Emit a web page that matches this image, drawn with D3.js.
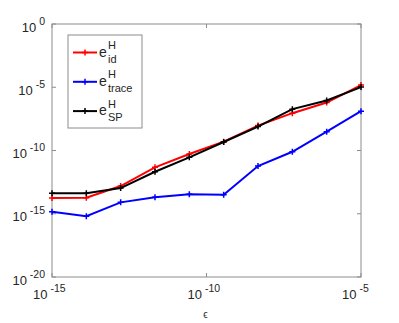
<!DOCTYPE html>
<html>
<head>
<meta charset="utf-8">
<script src="https://cdn.jsdelivr.net/npm/d3@7"></script>
<style>
  body { margin: 0; background: #fff; }
  text { font-family: "Liberation Sans", Arial, sans-serif; fill: #262626; }
</style>
</head>
<body>
<div id="chart"></div>
<script>
// svg container
var svgWidth = 399;
var svgHeight = 323;

var margin = { top: 24, right: 38, bottom: 46, left: 52 };
var width = svgWidth - margin.left - margin.right;
var height = svgHeight - margin.top - margin.bottom;

// data (log10 of values)
var epsExp = [-15, -13.889, -12.778, -11.667, -10.556, -9.444, -8.333, -7.222, -6.111, -5];
var idExp = [-13.76, -13.74, -12.81, -11.33, -10.28, -9.30, -8.03, -7.05, -6.21, -4.83];
var traceExp = [-14.85, -15.19, -14.10, -13.69, -13.45, -13.50, -11.23, -10.10, -8.51, -6.89];
var spExp = [-13.37, -13.37, -12.97, -11.68, -10.54, -9.33, -8.11, -6.73, -6.05, -4.99];

var xTicks = [-15, -10, -5];
var yTicks = [0, -5, -10, -15, -20];

var series = [
  { name: "id", values: idExp, color: "#ff0000" },
  { name: "trace", values: traceExp, color: "#0000ff" },
  { name: "SP", values: spExp, color: "#000000" }
];

var svg = d3.select("#chart")
  .append("svg")
  .attr("width", svgWidth)
  .attr("height", svgHeight);

var chartGroup = svg.append("g")
  .attr("transform", `translate(${margin.left}, ${margin.top})`);

// scales
var xScale = d3.scaleLog()
  .domain([1e-15, 1e-5])
  .range([0, width]);

var yScale = d3.scaleLog()
  .domain([1e-20, 1])
  .range([height, 0]);

var axisColor = "#8c8c8c";

// box
chartGroup.append("rect")
  .attr("x", 0).attr("y", 0)
  .attr("width", width).attr("height", height)
  .attr("fill", "none")
  .attr("stroke", axisColor)
  .attr("stroke-width", 1);

// ticks (inside, both sides)
var tickLen = 4;
yTicks.forEach(function(e) {
  var y = yScale(Math.pow(10, e));
  chartGroup.append("line").attr("x1", 0).attr("x2", tickLen)
    .attr("y1", y).attr("y2", y).attr("stroke", axisColor);
  chartGroup.append("line").attr("x1", width).attr("x2", width - tickLen)
    .attr("y1", y).attr("y2", y).attr("stroke", axisColor);
  var t = chartGroup.append("text")
    .attr("x", -7)
    .attr("y", y + 7.5)
    .attr("text-anchor", "end")
    .style("font-size", "13px");
  t.append("tspan").text("10");
  t.append("tspan").attr("dy", -7).style("font-size", "10.5px").text(e === 0 ? " 0" : " " + e);
});

xTicks.forEach(function(e) {
  var x = xScale(Math.pow(10, e));
  chartGroup.append("line").attr("x1", x).attr("x2", x)
    .attr("y1", height).attr("y2", height - tickLen).attr("stroke", axisColor);
  chartGroup.append("line").attr("x1", x).attr("x2", x)
    .attr("y1", 0).attr("y2", tickLen).attr("stroke", axisColor);
  var t = chartGroup.append("text")
    .attr("x", x - 19)
    .attr("y", height + 22)
    .style("font-size", "13px");
  t.append("tspan").text("10");
  t.append("tspan").attr("dy", -7).style("font-size", "10.5px").text(" " + e);
});

// x label
chartGroup.append("text")
  .attr("x", width / 2 - 1)
  .attr("y", height + 41)
  .attr("text-anchor", "middle")
  .style("font-size", "10px")
  .text("\u03f5");

// lines
var line = d3.line()
  .x((d, i) => xScale(Math.pow(10, epsExp[i])))
  .y(d => yScale(Math.pow(10, d)));

function plus(g, x, y, color) {
  g.append("path")
    .attr("d", `M${x - 3},${y}H${x + 3}M${x},${y - 3}V${y + 3}`)
    .attr("stroke", color)
    .attr("stroke-width", 1.5);
}

series.forEach(function(s) {
  chartGroup.append("path")
    .datum(s.values)
    .attr("d", line)
    .attr("fill", "none")
    .attr("stroke", s.color)
    .attr("stroke-width", 2);
  s.values.forEach(function(v, i) {
    plus(chartGroup, xScale(Math.pow(10, epsExp[i])), yScale(Math.pow(10, v)), s.color);
  });
});

// legend
var legend = svg.append("g").attr("transform", "translate(68, 35)");
legend.append("rect")
  .attr("width", 74).attr("height", 93)
  .attr("fill", "#fff")
  .attr("stroke", axisColor);

series.forEach(function(s, i) {
  var y = 17.5 + i * 29.3;
  legend.append("line")
    .attr("x1", 5).attr("x2", 29)
    .attr("y1", y).attr("y2", y)
    .attr("stroke", s.color).attr("stroke-width", 2);
  plus(legend, 17, y, s.color);
  legend.append("text")
    .attr("x", 31).attr("y", y + 4)
    .style("font-size", "14px")
    .text("e");
  legend.append("text")
    .attr("x", 40).attr("y", y - 3.5)
    .style("font-size", "11px")
    .text("H");
  legend.append("text")
    .attr("x", 40).attr("y", y + 10)
    .style("font-size", "11px")
    .text(s.name);
});
</script>
</body>
</html>
